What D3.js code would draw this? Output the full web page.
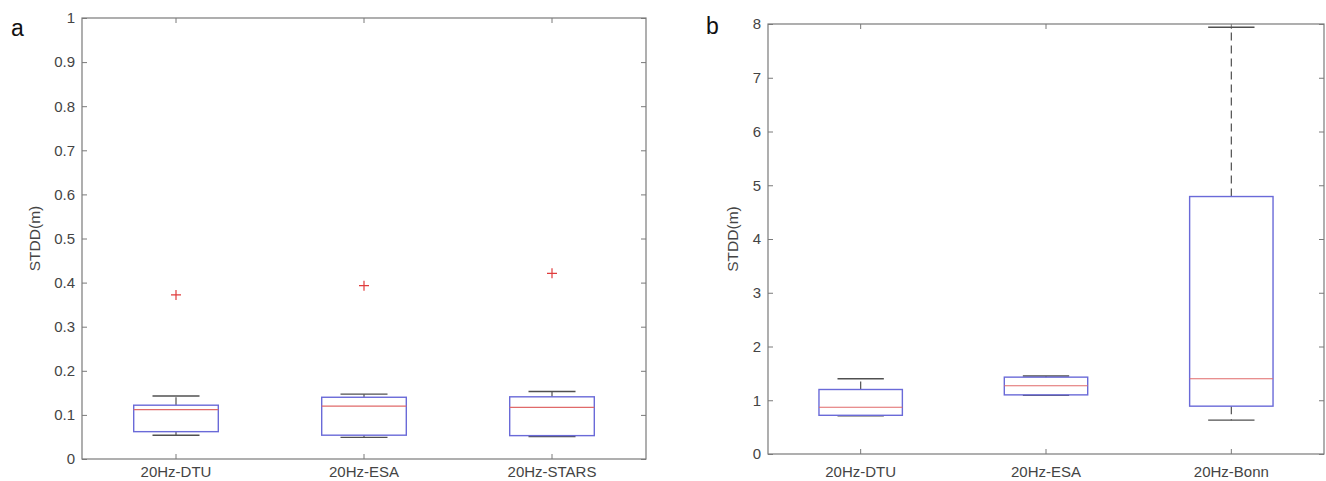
<!DOCTYPE html>
<html>
<head>
<meta charset="utf-8">
<script src="https://cdn.jsdelivr.net/npm/d3@7"></script>
<style>
  body { margin: 0; background: #fff; }
  svg { display: block; }
  text { font-family: "Liberation Sans", Arial, sans-serif; }
</style>
</head>
<body>
<div id="chart"></div>
<script>
// Panel a data
const catsA = ["20Hz-DTU", "20Hz-ESA", "20Hz-STARS"];
const lowA = [0.054, 0.049, 0.051];
const q1A = [0.062, 0.054, 0.053];
const medA = [0.112, 0.120, 0.117];
const q3A = [0.122, 0.140, 0.141];
const highA = [0.143, 0.147, 0.153];
const outA = [0.372, 0.393, 0.421];
const ticksA = [0, 0.1, 0.2, 0.3, 0.4, 0.5, 0.6, 0.7, 0.8, 0.9, 1];

// Panel b data
const catsB = ["20Hz-DTU", "20Hz-ESA", "20Hz-Bonn"];
const lowB = [0.71, 1.09, 0.63];
const q1B = [0.72, 1.10, 0.89];
const medB = [0.87, 1.27, 1.40];
const q3B = [1.20, 1.43, 4.79];
const highB = [1.40, 1.45, 7.94];
const outB = [null, null, null];
const ticksB = [0, 1, 2, 3, 4, 5, 6, 7, 8];

const W = 1326, H = 481;
const axisColor = "#7a7a7a";
const textColor = "#444";

const svg = d3.select("#chart")
    .append("svg")
    .attr("width", W)
    .attr("height", H);

function drawPanel(opt) {
    const { left, top, right, bottom, cats, low, q1, med, q3, high, outs, ticks, yMax, letter, letterX, letterY, labelX } = opt;

    const x = d3.scaleBand().domain(cats).range([left, right]).padding(0);
    const y = d3.scaleLinear().domain([0, yMax]).range([bottom, top]);
    const g = svg.append("g");

    const boxW = x.bandwidth() * 0.45;
    const capW = x.bandwidth() * 0.25;

    // frame
    g.append("rect")
        .attr("x", left).attr("y", top)
        .attr("width", right - left).attr("height", bottom - top)
        .attr("fill", "none").attr("stroke", axisColor).attr("stroke-width", 1.2);

    // axes with inward ticks
    g.append("g")
        .attr("transform", `translate(${left},0)`)
        .call(d3.axisLeft(y).tickValues(ticks).tickSize(-5).tickPadding(7).tickFormat(d3.format("")));
    g.append("g")
        .attr("transform", `translate(${right},0)`)
        .call(d3.axisRight(y).tickValues(ticks).tickSize(-5).tickFormat(""));
    g.append("g")
        .attr("transform", `translate(0,${bottom})`)
        .call(d3.axisBottom(x).tickSize(-5).tickPadding(477 - bottom - 11));
    g.append("g")
        .attr("transform", `translate(0,${top})`)
        .call(d3.axisTop(x).tickSize(-5).tickFormat(""));

    g.selectAll(".domain").remove();
    g.selectAll(".tick line").attr("stroke", axisColor);
    g.selectAll(".tick text")
        .attr("fill", textColor)
        .attr("font-size", 15);

    // y label
    g.append("text")
        .attr("transform", `translate(${labelX},${(top + bottom) / 2}) rotate(-90)`)
        .attr("text-anchor", "middle")
        .attr("font-size", 15.5)
        .attr("fill", textColor)
        .text("STDD(m)");

    // panel letter
    svg.append("text")
        .attr("x", letterX).attr("y", letterY)
        .attr("font-family", "'Open Sans', sans-serif")
        .attr("font-size", 23)
        .attr("fill", "#111")
        .text(letter);

    cats.forEach((c, i) => {
        const cx = x(c) + x.bandwidth() / 2;

        // whiskers (dashed)
        g.append("line")
            .attr("x1", cx).attr("x2", cx)
            .attr("y1", y(q3[i])).attr("y2", y(high[i]))
            .attr("stroke", "#505050").attr("stroke-width", 1.2)
            .attr("stroke-dasharray", "8,5");
        g.append("line")
            .attr("x1", cx).attr("x2", cx)
            .attr("y1", y(q1[i])).attr("y2", y(low[i]))
            .attr("stroke", "#505050").attr("stroke-width", 1.2)
            .attr("stroke-dasharray", "8,5");

        // caps
        [low[i], high[i]].forEach(v => {
            g.append("line")
                .attr("x1", cx - capW / 2).attr("x2", cx + capW / 2)
                .attr("y1", y(v)).attr("y2", y(v))
                .attr("stroke", "#505050").attr("stroke-width", 1.4);
        });

        // box
        g.append("rect")
            .attr("x", cx - boxW / 2).attr("y", y(q3[i]))
            .attr("width", boxW).attr("height", y(q1[i]) - y(q3[i]))
            .attr("fill", "none").attr("stroke", "#6a6ad8").attr("stroke-width", 1.4);

        // median
        g.append("line")
            .attr("x1", cx - boxW / 2).attr("x2", cx + boxW / 2)
            .attr("y1", y(med[i])).attr("y2", y(med[i]))
            .attr("stroke", "#e06a6a").attr("stroke-width", 1.2);

        // outlier
        if (outs[i] != null) {
            const oy = y(outs[i]);
            g.append("path")
                .attr("d", `M${cx - 5},${oy}H${cx + 5}M${cx},${oy - 5}V${oy + 5}`)
                .attr("stroke", "#e03c3c").attr("stroke-width", 1.2)
                .attr("fill", "none");
        }
    });
}

drawPanel({
    left: 82, top: 18, right: 646, bottom: 459,
    cats: catsA, low: lowA, q1: q1A, med: medA, q3: q3A, high: highA, outs: outA,
    ticks: ticksA, yMax: 1,
    letter: "a", letterX: 11, letterY: 36, labelX: 40
});

drawPanel({
    left: 768, top: 24, right: 1324, bottom: 454,
    cats: catsB, low: lowB, q1: q1B, med: medB, q3: q3B, high: highB, outs: outB,
    ticks: ticksB, yMax: 8,
    letter: "b", letterX: 706, letterY: 34, labelX: 738
});
</script>
</body>
</html>
